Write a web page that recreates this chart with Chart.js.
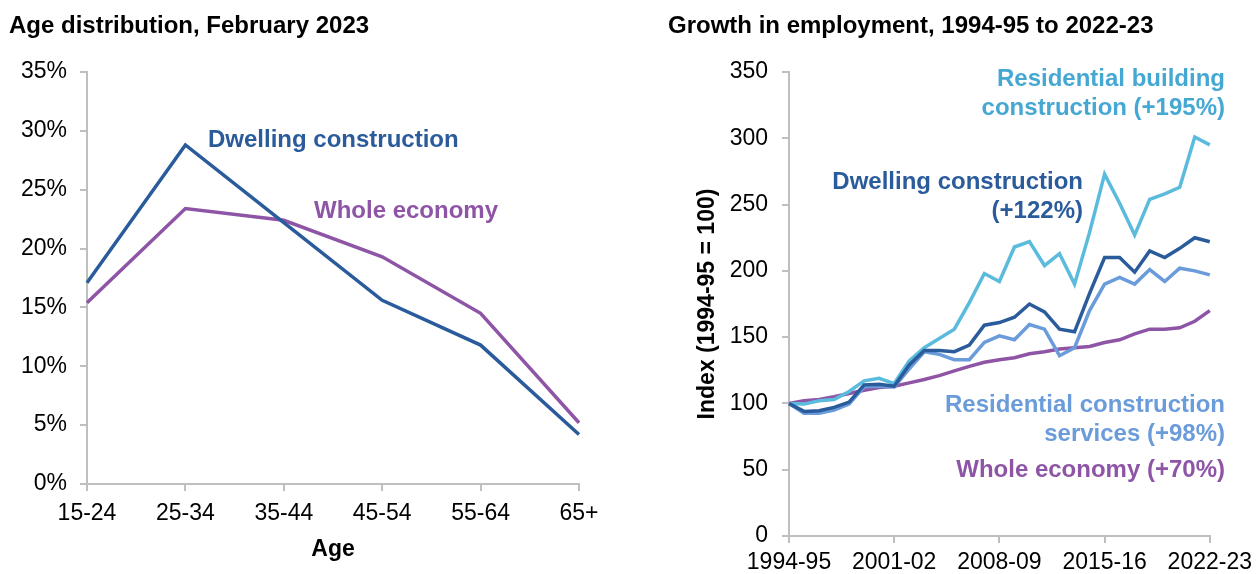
<!DOCTYPE html>
<html>
<head>
<meta charset="utf-8">
<script src="https://cdn.jsdelivr.net/npm/chart.js@4.4.1/dist/chart.umd.min.js"></script>
<style>
  html, body { margin:0; padding:0; background:#fff; }
  body { width:1258px; height:574px; position:relative; overflow:hidden; font-family:"Liberation Sans", Arial, sans-serif; }
  canvas { position:absolute; top:0; }
  .t { position:absolute; font-weight:bold; font-size:24px; line-height:29px; white-space:nowrap; }
  .r { text-align:right; }
</style>
</head>
<body>
<canvas id="left" width="640" height="574" style="left:0;width:640px;height:574px"></canvas>
<canvas id="right" width="618" height="574" style="left:640px;width:618px;height:574px"></canvas>

<div class="t" style="left:9px;top:10px;color:#000">Age distribution, February 2023</div>
<div class="t" style="left:668px;top:10px;color:#000">Growth in employment, 1994-95 to 2022-23</div>

<div class="t" style="left:208px;top:124px;color:#2A5B9B">Dwelling construction</div>
<div class="t" style="left:314px;top:195px;color:#8E55A6">Whole economy</div>

<div class="t r" style="right:33px;top:63px;color:#45A8D3">Residential building<br>construction (+195%)</div>
<div class="t r" style="right:175px;top:166px;color:#2A5B9B">Dwelling construction<br>(+122%)</div>
<div class="t r" style="right:33px;top:389px;color:#6A9BDA">Residential construction<br>services (+98%)</div>
<div class="t r" style="right:33px;top:454px;color:#8E55A6">Whole economy (+70%)</div>

<script>
// ---- Left panel data: age distribution (%) ----
const ageGroups = ['15-24', '25-34', '35-44', '45-54', '55-64', '65+'];
const dwellingAge = [17.1, 28.8, 22.2, 15.6, 11.8, 4.2];
const wholeEconomyAge = [15.4, 23.4, 22.4, 19.3, 14.5, 5.2];
const ageTicks = [0, 5, 10, 15, 20, 25, 30, 35];

// ---- Right panel data: employment index (1994-95 = 100) ----
const years = ['1994-95','1995-96','1996-97','1997-98','1998-99','1999-00','2000-01',
  '2001-02','2002-03','2003-04','2004-05','2005-06','2006-07','2007-08',
  '2008-09','2009-10','2010-11','2011-12','2012-13','2013-14','2014-15',
  '2015-16','2016-17','2017-18','2018-19','2019-20','2020-21','2021-22','2022-23'];
const yearTickLabels = ['1994-95', '2001-02', '2008-09', '2015-16', '2022-23'];
const dwellingIdx = [100, 94, 94.5, 97, 101, 114, 114.5, 113, 129, 140, 140, 139, 144, 159, 161,
  165, 175, 169, 156, 154, 183, 210, 210, 199, 215, 210, 217, 225, 222];
const resBuildingIdx = [100, 99.5, 102, 103, 109, 117, 119, 115, 132, 142, 149, 156, 176, 198, 192,
  218, 222, 204, 213, 190, 229, 273, 251, 227, 254, 258, 263, 301, 295];
const resServicesIdx = [100, 92.5, 92.5, 95, 99.5, 112.5, 113, 112.5, 126, 139, 137, 133, 133, 146, 151,
  148, 159.5, 156, 136, 142, 170, 190, 195, 190, 201, 192, 202, 200, 197];
const wholeEconomyIdx = [100, 102, 103, 105, 107.5, 110, 112, 113, 115.5, 118, 121, 124.5, 128, 131, 133,
  134.5, 137.5, 139, 141, 142, 143, 146, 148, 152.5, 156, 156, 157, 162, 170];
const idxTicks = [0, 50, 100, 150, 200, 250, 300, 350];

const C_DWELL = '#2A5B9B', C_WHOLE = '#8E55A6', C_BUILD = '#5BBBDD', C_SERV = '#6A9BDA';
const AXIS = '#BFBFBF';

Chart.defaults.font.family = '"Liberation Sans", Arial, sans-serif';
Chart.defaults.color = '#000';

function line(data, color) {
  return { data, borderColor: color, backgroundColor: color, borderWidth: 3.5,
           pointRadius: 0, tension: 0, fill: false, borderJoinStyle: 'miter' };
}
const common = {
  responsive: false, animation: false, devicePixelRatio: 1,
  plugins: { legend: { display: false }, tooltip: { enabled: false } }
};

new Chart(document.getElementById('left'), {
  type: 'line',
  data: { labels: ageGroups, datasets: [ line(dwellingAge, C_DWELL), line(wholeEconomyAge, C_WHOLE) ] },
  options: Object.assign({}, common, {
    layout: { padding: { left: 0, right: 61, top: 72, bottom: 0 } },
    scales: {
      x: {
        type: 'category', offset: false,
        grid: { drawOnChartArea: false, drawTicks: true, tickLength: 7, color: AXIS, lineWidth: 2, offset: false },
        border: { color: AXIS, width: 2 },
        ticks: { font: { size: 23 }, padding: 9, maxRotation: 0, autoSkip: false, color: '#000' },
        title: { display: true, text: 'Age', font: { size: 23, weight: 'bold' }, color: '#000', padding: { top: 0, bottom: 11 } },
        afterFit(s) { s.height = 90; }
      },
      y: {
        min: ageTicks[0], max: ageTicks[ageTicks.length - 1],
        afterBuildTicks(s) { s.ticks = ageTicks.map(v => ({ value: v })); },
        ticks: { callback: v => v + '%', font: { size: 23 }, padding: 13, color: '#000' },
        grid: { drawOnChartArea: false, tickLength: 7, color: AXIS, lineWidth: 2 },
        border: { color: AXIS, width: 2 },
        afterFit(s) { s.width = 87; }
      }
    }
  })
});

new Chart(document.getElementById('right'), {
  type: 'line',
  data: { labels: years, datasets: [
    line(dwellingIdx, C_DWELL), line(resServicesIdx, C_SERV),
    line(resBuildingIdx, C_BUILD), line(wholeEconomyIdx, C_WHOLE) ] },
  options: Object.assign({}, common, {
    layout: { padding: { left: 0, right: 42, top: 72, bottom: 0 } },
    scales: {
      x: {
        type: 'category', offset: false,
        grid: { drawOnChartArea: false, drawTicks: true, tickLength: 7, color: AXIS, lineWidth: 2, offset: false },
        border: { color: AXIS, width: 2 },
        ticks: {
          font: { size: 23 }, padding: 6, maxRotation: 0, autoSkip: false, color: '#000',
          callback(val) { const l = this.getLabelForValue(val); return yearTickLabels.includes(l) ? l : null; }
        },
        afterFit(s) { s.height = 38; }
      },
      y: {
        min: idxTicks[0], max: idxTicks[idxTicks.length - 1],
        afterBuildTicks(s) { s.ticks = idxTicks.map(v => ({ value: v })); },
        ticks: { font: { size: 23 }, padding: 14, color: '#000' },
        grid: { drawOnChartArea: false, tickLength: 7, color: AXIS, lineWidth: 2 },
        border: { color: AXIS, width: 2 },
        title: { display: true, text: 'Index (1994-95 = 100)', font: { size: 23, weight: 'bold' }, color: '#000', padding: { top: 54, bottom: 0 } },
        afterFit(s) { s.width = 149; }
      }
    }
  })
});
</script>
</body>
</html>
